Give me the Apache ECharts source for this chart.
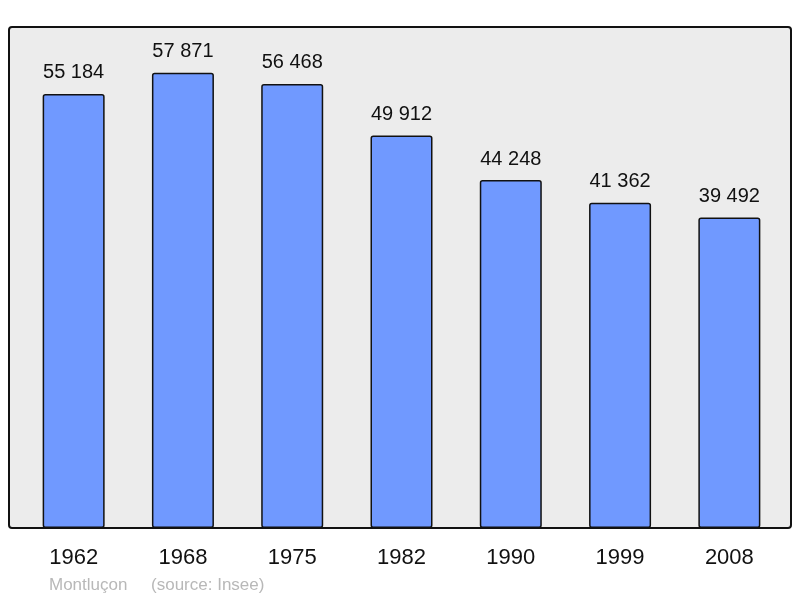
<!DOCTYPE html>
<html>
<head>
<meta charset="utf-8">
<script src="https://cdn.jsdelivr.net/npm/echarts@6/dist/echarts.min.js"></script>
<style>
  html, body { margin: 0; padding: 0; background: #fff; }
  #main { width: 800px; height: 598px; }
</style>
</head>
<body>
<div id="main"></div>
<script>
// census years and population of Montluçon
const years = ['1962', '1968', '1975', '1982', '1990', '1999', '2008']
const population = [55184, 57871, 56468, 49912, 44248, 41362, 39492]

// "55 184" style thousands separator
const fmt = (v) => String(v).replace(/\B(?=(\d{3})+(?!\d))/g, ' ')

const myChart = echarts.init(document.getElementById('main'))

const option = {
  backgroundColor: '#ffffff',
  animation: false,
  textStyle: { fontFamily: 'Liberation Sans' },
  graphic: [
    {
      type: 'rect',
      z: -10,
      shape: { x: 9, y: 27, width: 782, height: 501, r: 3 },
      style: { fill: '#ececec', stroke: '#111', lineWidth: 2 }
    },
    {
      type: 'text',
      left: 49,
      top: 577,
      style: {
        text: 'Montluçon     (source: Insee)',
        fill: '#b8b8b8',
        font: '17px "Liberation Sans"'
      }
    }
  ],
  grid: { left: 19, right: 16, top: 27, bottom: 70 },
  xAxis: {
    type: 'category',
    data: years,
    axisLine: { show: false },
    axisTick: { show: false },
    axisLabel: { color: '#111', fontSize: 22, margin: 19 }
  },
  yAxis: {
    type: 'value',
    min: 0,
    max: 63700,
    show: false,
    splitLine: { show: false }
  },
  series: [
    {
      type: 'bar',
      data: population,
      barWidth: 62,
      itemStyle: {
        color: '#7099ff',
        borderColor: '#111',
        borderWidth: 1.5,
        borderRadius: 2
      },
      label: {
        show: true,
        position: 'top',
        distance: 11,
        color: '#111',
        fontSize: 20,
        formatter: (p) => fmt(p.value)
      }
    }
  ]
}

myChart.setOption(option)
</script>
</body>
</html>
